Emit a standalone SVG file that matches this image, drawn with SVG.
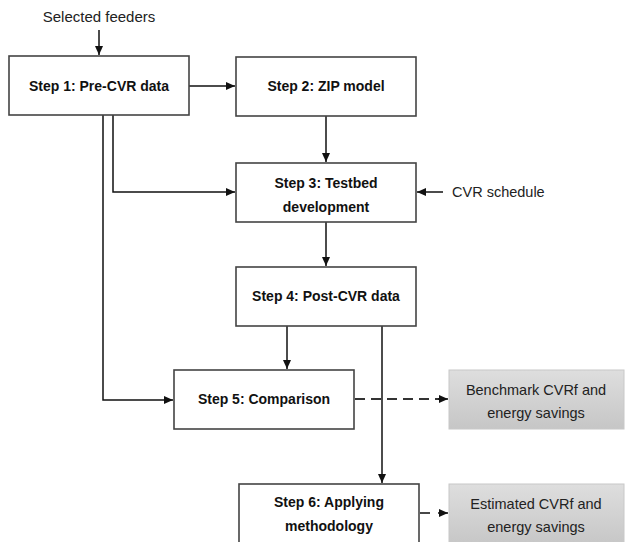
<svg xmlns="http://www.w3.org/2000/svg" width="627" height="542" viewBox="0 0 627 542">
<defs>
<marker id="ah" markerWidth="9" markerHeight="8" refX="9" refY="4" orient="auto" markerUnits="userSpaceOnUse">
<path d="M0,0 L9,4 L0,8 Z" fill="#111"/>
</marker>
<linearGradient id="gg" x1="0" y1="0" x2="0" y2="1">
<stop offset="0" stop-color="#dedede"/>
<stop offset="1" stop-color="#c6c6c6"/>
</linearGradient>
<style>
.box{fill:#fff;stroke:#444;stroke-width:1.6}
.gbox{fill:url(#gg);stroke:#c8c8c8;stroke-width:1}
.t{font-family:"Liberation Sans",Arial,sans-serif;font-size:14px;font-weight:bold;fill:#111;text-anchor:middle}
.n{font-family:"Liberation Sans",Arial,sans-serif;font-size:14.5px;fill:#222;text-anchor:middle}
.c{fill:none;stroke:#111;stroke-width:1.5}
.d{fill:none;stroke:#333;stroke-width:1.8;stroke-dasharray:10,6}
</style>
</defs>
<rect width="627" height="542" fill="#fff"/>
<g id="connectors">
<path class="c" d="M99,30 V55" marker-end="url(#ah)"/>
<path class="c" d="M189,86 H235" marker-end="url(#ah)"/>
<path class="c" d="M326,116 V162" marker-end="url(#ah)"/>
<path class="c" d="M113,115 V192 H235" marker-end="url(#ah)"/>
<path class="c" d="M443,192 H417" marker-end="url(#ah)"/>
<path class="c" d="M326,222 V266" marker-end="url(#ah)"/>
<path class="c" d="M287,326 V369" marker-end="url(#ah)"/>
<path class="c" d="M103,115 V400 H173" marker-end="url(#ah)"/>
<path class="c" d="M382,326 V483" marker-end="url(#ah)"/>
<path class="d" d="M355,399 H440"/>
<path class="c" d="M438,399 H448" marker-end="url(#ah)"/>
<path class="d" d="M420,513 H436"/>
<path class="c" d="M438,513 H448" marker-end="url(#ah)"/>
</g>
<g id="selected-feeders"><text class="n" x="99" y="22" style="font-size:15px">Selected feeders</text></g>
<g id="cvr-schedule"><text class="n" x="452" y="197" style="text-anchor:start">CVR schedule</text></g>
<g id="step1"><rect class="box" x="9" y="56" width="180" height="59"/><text class="t" x="99" y="91">Step 1: Pre-CVR data</text></g>
<g id="step2"><rect class="box" x="236" y="57" width="180" height="59"/><text class="t" x="326" y="91">Step 2: ZIP model</text></g>
<g id="step3"><rect class="box" x="236" y="163" width="180" height="59"/><text class="t" x="326" y="188">Step 3: Testbed</text><text class="t" x="326" y="212">development</text></g>
<g id="step4"><rect class="box" x="236" y="267" width="180" height="59"/><text class="t" x="326" y="301">Step 4: Post-CVR data</text></g>
<g id="step5"><rect class="box" x="174" y="370" width="180" height="59"/><text class="t" x="264" y="404">Step 5: Comparison</text></g>
<g id="step6"><rect class="box" x="239" y="484" width="180" height="62"/><text class="t" x="329" y="507">Step 6: Applying</text><text class="t" x="329" y="531">methodology</text></g>
<g id="benchmark"><rect class="gbox" x="449" y="370" width="175" height="59"/><text class="n" x="536" y="395">Benchmark CVRf and</text><text class="n" x="536" y="418">energy savings</text></g>
<g id="estimated"><rect class="gbox" x="449" y="484" width="175" height="62"/><text class="n" x="536" y="509">Estimated CVRf and</text><text class="n" x="536" y="532">energy savings</text></g>
</svg>
